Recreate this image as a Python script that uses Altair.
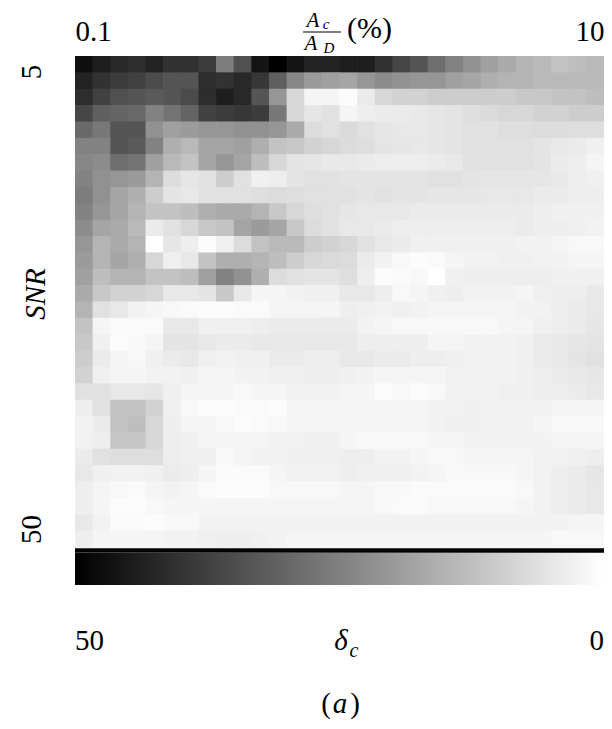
import altair as alt
import pandas as pd

FONT = "Liberation Serif"

# delta_c value of every cell, one list per SNR row (top row = SNR 5, bottom row = SNR 50),
# 30 columns from A_c/A_D = 0.1 % (left) to 10 % (right)
delta_rows = [
    [47.1,44.1,42.2,41.2,43.1,40.2,40.2,38.2,25.5,34.3,46.1,50.0,46.1,43.1,43.1,44.1,44.1,40.2,36.3,33.3,28.4,24.5,21.6,18.6,16.7,14.7,13.7,11.8,12.7,13.7],
    [43.1,40.2,38.2,37.3,35.3,33.3,33.3,41.2,40.2,42.2,39.2,31.4,23.5,19.6,18.6,17.6,20.6,22.5,21.6,20.6,20.6,18.6,17.6,15.7,14.7,14.7,13.7,13.7,13.7,13.7],
    [41.2,37.3,34.3,33.3,32.4,33.3,35.3,41.2,44.1,42.2,33.3,20.6,7.8,2.0,2.0,0.6,3.9,7.8,8.8,8.8,9.8,9.8,9.8,9.8,9.8,10.8,10.8,11.8,11.8,12.7],
    [36.3,31.4,30.4,29.4,24.5,27.5,30.4,37.3,38.2,39.2,38.2,26.5,7.8,4.9,5.9,2.0,3.3,3.9,3.9,4.3,4.9,5.3,6.5,7.3,7.8,7.8,8.8,8.8,9.8,9.8],
    [29.4,26.5,33.3,33.3,21.6,18.6,19.6,20.6,20.6,21.6,21.6,20.6,16.7,6.9,5.9,7.3,5.9,4.9,4.5,4.5,4.9,5.3,5.9,5.9,6.5,6.5,6.9,6.9,6.5,6.5],
    [24.5,24.5,33.3,32.4,24.5,15.7,13.7,17.6,17.6,18.6,15.7,11.8,10.8,8.8,7.8,6.9,6.5,5.3,4.9,4.5,4.9,5.3,5.9,5.9,5.9,5.9,5.3,4.5,3.9,2.9],
    [23.5,22.5,28.4,27.5,18.6,13.7,11.8,17.6,20.6,17.6,12.7,7.8,5.3,4.9,4.3,4.5,3.9,3.3,3.3,3.3,3.9,4.5,5.9,5.9,5.9,5.9,5.3,3.9,3.3,2.0],
    [24.5,21.6,20.6,19.6,14.7,6.9,4.9,5.9,9.8,5.9,2.9,3.3,5.3,5.9,5.9,5.3,5.3,5.3,5.3,5.3,5.9,5.9,5.3,4.9,4.9,4.9,4.9,4.3,3.3,2.9],
    [25.5,21.6,17.6,15.7,9.8,5.3,4.5,5.9,5.9,5.9,6.5,6.9,6.5,5.9,5.9,5.9,5.3,5.9,5.3,5.3,4.9,4.9,4.9,4.5,4.5,4.5,3.9,3.9,3.3,3.3],
    [24.5,20.6,17.6,14.7,11.8,11.8,12.7,15.7,16.7,16.7,14.7,10.8,7.8,6.5,5.9,4.9,4.5,4.5,4.5,3.9,3.9,3.9,3.9,3.9,3.9,3.9,3.3,2.9,2.9,2.9],
    [22.5,17.6,16.7,13.7,3.9,5.9,7.8,10.8,11.8,17.6,19.6,17.6,10.8,6.9,5.9,4.5,4.5,3.9,3.3,3.3,3.3,3.3,3.3,3.3,3.3,3.9,3.3,3.3,2.9,2.5],
    [20.6,14.7,16.7,14.7,0.0,4.9,3.3,0.6,2.9,6.9,11.8,13.7,13.7,9.8,8.8,7.8,5.9,4.5,3.9,2.9,2.9,2.9,2.9,2.9,2.9,2.5,2.5,2.0,1.4,1.4],
    [19.6,14.7,17.6,15.7,7.8,2.9,4.5,11.8,15.7,15.7,14.7,12.7,9.8,7.8,7.3,6.9,3.9,2.5,1.4,0.6,1.0,2.0,2.5,2.5,2.9,2.9,2.5,2.5,2.0,2.0],
    [18.6,12.7,14.7,14.7,11.8,11.8,12.7,18.6,24.5,21.6,15.7,6.9,5.9,5.3,5.3,6.5,3.3,0.6,1.0,1.4,0.0,2.9,3.3,3.3,3.3,3.3,3.3,2.9,2.9,2.9],
    [16.7,10.8,8.8,8.8,7.8,4.5,4.5,5.3,10.8,4.5,2.0,2.0,2.5,2.9,2.9,4.5,4.5,3.3,1.4,2.0,2.9,3.3,2.5,2.5,2.5,2.0,2.9,3.3,3.3,4.5],
    [14.7,5.9,4.5,2.5,2.0,1.4,1.0,0.6,0.6,1.0,1.0,2.0,2.0,2.0,2.0,3.3,2.9,2.5,2.9,2.5,2.0,2.0,2.0,2.0,2.0,2.5,2.5,3.3,3.9,4.5],
    [11.8,2.0,1.0,1.0,1.0,4.5,4.5,2.9,2.9,2.9,3.3,3.9,3.9,3.9,3.9,3.9,2.5,2.0,1.4,1.4,1.4,1.4,1.4,1.4,2.0,2.0,2.9,3.3,3.9,4.9],
    [10.8,2.9,0.6,1.4,2.0,5.3,5.3,4.5,3.9,3.9,4.5,4.5,4.5,4.5,4.5,4.5,3.3,3.3,3.3,3.3,2.0,2.0,2.5,2.5,2.5,2.9,3.9,4.5,4.9,5.3],
    [9.8,3.9,2.0,1.4,2.9,3.9,4.5,2.9,2.5,2.9,2.9,3.9,3.9,3.3,3.3,4.5,4.5,3.9,3.9,3.3,3.3,2.9,2.5,2.5,2.5,2.9,3.9,4.5,5.3,5.9],
    [8.8,2.9,2.0,2.0,2.5,2.5,2.9,2.0,2.0,2.5,2.5,2.9,2.9,3.3,3.3,2.9,2.5,2.0,2.0,2.0,2.0,2.5,2.5,2.5,2.5,2.9,3.3,3.9,4.5,4.9],
    [5.9,5.9,4.5,4.5,4.9,2.9,2.0,2.0,2.0,1.4,2.0,2.0,2.5,2.5,2.5,2.0,2.0,0.6,1.4,0.6,1.4,2.5,2.5,2.5,2.9,2.9,3.3,3.3,3.9,4.5],
    [3.3,5.9,11.8,11.8,8.8,2.9,1.4,0.6,0.6,1.0,1.0,0.6,2.0,2.0,2.0,2.0,2.0,2.0,2.0,2.0,2.5,2.5,2.9,2.5,2.5,2.5,2.5,2.0,2.0,2.0],
    [2.5,3.9,11.8,12.7,7.8,3.3,2.0,2.0,1.4,0.6,1.0,1.4,2.0,2.0,2.0,2.0,2.0,2.0,2.0,2.0,2.5,2.9,2.9,2.5,2.5,2.5,2.0,1.4,1.4,1.4],
    [2.5,3.3,11.2,11.2,7.8,3.3,2.9,2.0,2.0,2.0,2.0,2.5,2.5,2.9,2.9,2.0,1.4,1.4,1.4,1.4,2.0,2.0,2.5,2.5,2.5,2.5,2.5,2.0,2.0,2.0],
    [3.9,5.9,6.5,6.5,6.5,3.3,2.9,2.9,1.4,2.0,2.5,2.5,2.9,2.9,2.9,3.3,3.3,2.5,2.5,2.0,1.4,1.4,2.0,2.0,2.0,2.0,2.5,2.5,2.9,3.3],
    [4.5,2.9,2.5,2.5,2.9,3.9,3.3,2.0,1.0,1.0,1.0,2.0,2.5,2.5,2.5,3.3,2.9,2.9,2.9,2.5,2.0,1.4,1.4,1.4,1.4,2.0,2.5,3.3,3.9,4.9],
    [3.3,2.0,1.4,1.0,2.0,2.5,2.0,1.0,0.6,0.6,0.6,1.4,1.4,1.4,1.4,2.0,2.0,1.4,1.4,1.0,1.0,1.0,1.0,1.0,1.0,1.4,2.5,3.3,3.9,4.5],
    [3.3,2.0,0.6,0.6,1.4,2.0,2.0,2.0,2.0,2.0,2.0,2.0,2.0,2.0,2.0,2.0,2.0,1.4,1.0,1.0,1.4,1.4,1.4,1.4,1.4,2.0,2.5,3.3,3.9,4.5],
    [4.5,2.5,1.0,1.0,0.6,1.4,1.4,2.5,2.5,2.5,2.5,2.5,2.5,2.5,2.5,2.5,2.5,2.5,2.5,2.5,2.5,2.5,2.5,2.5,2.5,2.5,2.5,2.5,2.0,2.0],
    [3.3,2.0,2.0,2.0,2.0,2.5,2.5,2.9,3.3,3.3,2.9,2.5,2.0,2.0,2.0,2.0,2.0,2.0,2.0,2.0,2.0,2.0,2.0,2.0,2.0,2.0,2.0,1.4,1.4,1.4],
]

x_tick_labels = ["0.1", "10"]      # A_c/A_D (%) at left and right edge
y_tick_labels = ["5", "50"]        # SNR at top and bottom
colorbar_values = [50, 0]          # delta_c at left (black) and right (white)

N = 30
W, H = 529, 491

records = []
for r, row in enumerate(delta_rows):
    for c, v in enumerate(row):
        records.append({"col": c, "col_end": c + 1, "row": r, "row_end": r + 1, "delta": v})
df = pd.DataFrame(records)

cscale = alt.Scale(domain=[50, 0], range=["#000000", "#ffffff"], interpolate="rgb")

x_enc = alt.X("col:Q", scale=alt.Scale(domain=[0, N], nice=False, zero=False),
              axis=alt.Axis(orient="top", values=[0, N],
                            labelExpr=f"datum.value == 0 ? '{x_tick_labels[0]}' : '{x_tick_labels[1]}'",
                            labelFlush=True, labelFont=FONT, labelFontSize=29, labelColor="black",
                            labelPadding=16, labelBaseline="alphabetic",
                            ticks=False, tickSize=0, domain=False, grid=False, title=None))
y_enc = alt.Y("row:Q", scale=alt.Scale(domain=[0, N], nice=False, zero=False, reverse=True),
              axis=alt.Axis(orient="left", values=[0.95, 28.9],
                            labelExpr=f"datum.value < 15 ? '{y_tick_labels[0]}' : '{y_tick_labels[1]}'",
                            labelAngle=270, labelAlign="center", labelBaseline="alphabetic",
                            labelFont=FONT, labelFontSize=29, labelColor="black", labelPadding=35,
                            labelOverlap=False,
                            ticks=False, tickSize=0, domain=False, grid=False, title=None))

# cells overlap their right/lower neighbour by a fraction of a pixel so no white seams show
heat = alt.Chart(df).mark_rect(x2Offset=0.7, y2Offset=0.7).encode(
    x=x_enc, x2="col_end:Q", y=y_enc, y2="row_end:Q",
    color=alt.Color("delta:Q", scale=cscale,
                    legend=alt.Legend(type="gradient", orient="none", legendX=0, legendY=497,
                                      direction="horizontal",
                                      gradientLength=W, gradientThickness=32, gradientStrokeWidth=0,
                                      values=colorbar_values, labelFont=FONT, labelFontSize=29,
                                      labelColor="black", labelOffset=42,
                                      padding=0, title=None)),
)

one = alt.Data(values=[{}])


def txt(s, x, y, size=29, italic=False, align="center", angle=0):
    return alt.Chart(one).mark_text(
        text=s, font=FONT, fontSize=size, fontStyle="italic" if italic else "normal",
        align=align, baseline="alphabetic", angle=angle, color="black",
    ).encode(x=alt.value(x), y=alt.value(y))


bar_line = alt.Chart(one).mark_rule(color="black", strokeWidth=1.2).encode(
    x=alt.value(228), x2=alt.value(266), y=alt.value(-24))
bottom_line = alt.Chart(one).mark_rule(color="black", strokeWidth=4.5).encode(
    x=alt.value(0), x2=alt.value(W), y=alt.value(494.5))

chart = alt.layer(
    heat,
    bottom_line,
    bar_line,
    txt("A", 238, -29, size=21, italic=True),
    txt("c", 251, -27.5, size=15, italic=True),
    txt("A", 236, -6.5, size=21, italic=True),
    txt("D", 254, -3.5, size=15, italic=True),
    txt("(%)", 272, -18, size=30, align="left"),
    txt("SNR", -30, 238, italic=True, angle=270),
    txt("δ", 266, 594, italic=True),
    txt("c", 279, 601, size=20, italic=True),
    txt("(", 251, 657),
    txt("a", 265, 657, italic=True),
    txt(")", 280, 657),
).properties(
    width=W, height=H,
    padding={"left": 67, "top": 48, "right": 0, "bottom": 174},
    autosize=alt.AutoSizeParams(type="none"),
).configure_view(stroke=None)

chart.save("out.html", embed_options={"renderer": "svg", "actions": False})
